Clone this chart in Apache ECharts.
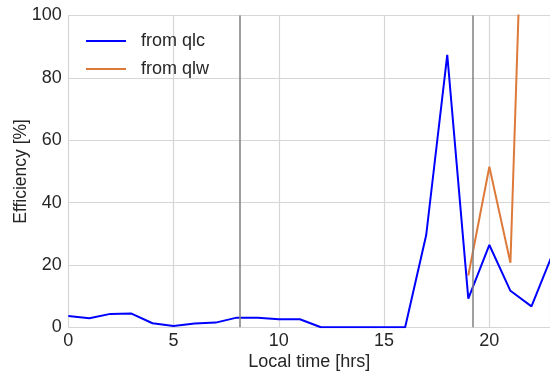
<!DOCTYPE html>
<html><head><meta charset="utf-8">
<script src="https://cdn.jsdelivr.net/npm/echarts@6/dist/echarts.min.js"></script>
<style>html,body{margin:0;padding:0;background:#fff}#c{width:550px;height:376px}</style>
</head><body><div id="c"></div>
<script>
const hours = [0,1,2,3,4,5,6,7,8,9,10,11,12,13,14,15,16,17,18,19,20,21,22,23];
const qlc = [3.6,2.9,4.3,4.4,1.3,0.4,1.2,1.5,3.1,3.1,2.6,2.6,0,0,0,0,0,29.6,87.4,9.2,26.4,11.7,6.7,23.5];
const qlw = [null,null,null,null,null,null,null,null,null,null,null,null,null,null,null,null,null,null,null,16.6,51.5,20.7,229,null];
const markers = [8.16, 19.21];
const seriesNames = ['from qlc','from qlw'];

const font = 'Liberation Sans, Arial, sans-serif';
const txt = '#262626';
const chart = echarts.init(document.getElementById('c'), null, {renderer:'canvas'});
const pairs = arr => hours.map((h,i)=>[h, arr[i]]);
chart.setOption({
  animation:false,
  backgroundColor:'#fff',
  grid:{left:68.3, right:0, top:15.5, bottom:48.7, containLabel:false, outerBoundsMode:'none'},
  legend:{
    left:81, top:27, orient:'vertical', itemWidth:40, itemHeight:2, itemGap:10,
    icon:'rect',
    textStyle:{fontFamily:font, fontSize:18, color:txt, padding:[0,0,0,10]},
    data:seriesNames
  },
  xAxis:{
    type:'value', min:0, max:22.88, interval:5,
    name:'Local time [hrs]', nameLocation:'middle', nameGap:26, nameMoveOverlap:false,
    nameTextStyle:{fontFamily:font, fontSize:18, color:txt},
    axisLine:{show:false}, axisTick:{show:false},
    axisLabel:{fontFamily:font, fontSize:18, color:txt, margin:5,
      formatter:v => (Math.abs(v%5)<1e-9 ? String(v) : '')},
    splitLine:{show:true, lineStyle:{color:'#d6d6d6', width:1.2}}
  },
  yAxis:{
    type:'value', min:0, max:100, interval:20,
    name:'Efficiency [%]', nameLocation:'middle', nameGap:38, nameMoveOverlap:false,
    nameTextStyle:{fontFamily:font, fontSize:17.5, color:txt},
    axisLine:{show:false}, axisTick:{show:false},
    axisLabel:{fontFamily:font, fontSize:18, color:txt, margin:6.5},
    splitLine:{show:true, lineStyle:{color:'#d6d6d6', width:1.2}}
  },
  series:[
    {name:seriesNames[0], type:'line', data:pairs(qlc), showSymbol:false, symbol:'none',
     lineStyle:{color:'#0000ff', width:2}, itemStyle:{color:'#0000ff'}, z:3,
     markLine:{silent:true, symbol:['none','none'], label:{show:false},
       lineStyle:{color:'#808080', width:1.5, type:'solid'},
       data:markers.map(m=>({xAxis:m}))}},
    {name:seriesNames[1], type:'line', data:pairs(qlw), showSymbol:false, symbol:'none',
     connectNulls:false,
     lineStyle:{color:'#dd7a3a', width:2}, itemStyle:{color:'#dd7a3a'}, z:2}
  ]
});
</script></body></html>
